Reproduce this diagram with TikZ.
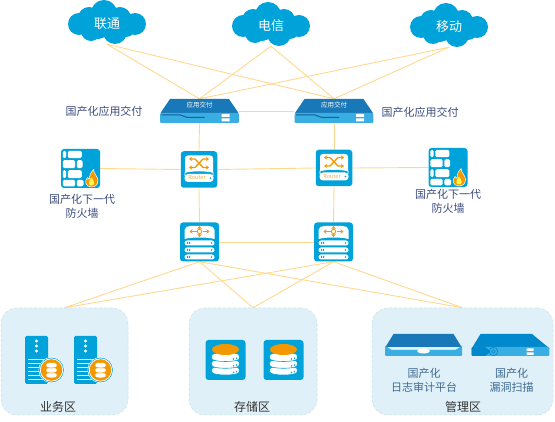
\documentclass[tikz,border=0pt]{standalone}
\usepackage{fontspec}
\setmainfont{Noto Sans CJK SC}
\usetikzlibrary{arrows.meta, backgrounds}
\definecolor{netblue}{HTML}{00A3D9}
\definecolor{darkblue}{HTML}{1878B8}
\definecolor{midblue}{HTML}{0088CC}
\definecolor{lightblue}{HTML}{38AEE2}
\definecolor{netorange}{HTML}{F39800}
\definecolor{linkgold}{HTML}{FFD88F}
\definecolor{zonefill}{HTML}{DFF0F8}
\definecolor{zoneline}{HTML}{C8E0EA}
\definecolor{labelnavy}{HTML}{3B4C7E}
\definecolor{labelblue}{HTML}{3F6A90}
\definecolor{labelgray}{HTML}{333333}

\begin{document}
\begin{tikzpicture}[
    x=1pt, y=-1pt,
    cloudbox/.style={
        minimum width=70pt, minimum height=40pt, inner sep=0pt,
        text=white, font=\fontsize{13}{15}\selectfont
    },
    adcbox/.style={minimum width=79pt, minimum height=24pt, inner sep=0pt},
    iconbox/.style={
        rectangle, rounded corners=3pt, fill=netblue, inner sep=0pt
    },
    routerbox/.style={iconbox, minimum size=36.5pt},
    switchbox/.style={iconbox, minimum size=39pt},
    fwbox/.style={iconbox, minimum size=39pt},
    storebox/.style={iconbox, minimum size=40pt},
    zone/.style={
        rectangle, rounded corners=16pt, inner sep=0pt,
        fill=zonefill, draw=zoneline, densely dashed, line width=0.5pt
    },
    link/.style={draw=linkgold, line width=0.9pt},
    navytext/.style={text=labelnavy, font=\fontsize{11}{13.5}\selectfont,
        align=center, inner sep=0pt},
    bluetext/.style={text=labelblue, font=\fontsize{11}{14}\selectfont,
        align=center, inner sep=0pt},
    zonetext/.style={text=labelgray, font=\fontsize{12}{14}\selectfont,
        inner sep=0pt},
    oarr/.style={
        {Stealth[length=3pt, width=4pt]}-{Stealth[length=3pt, width=4pt]},
        draw=netorange, line width=1.3pt
    },
    otip/.style={
        -{Stealth[length=3pt, width=4.5pt]},
        draw=netorange, line width=1.2pt
    },
    pics/cloudshape/.style={code={
        \fill[netblue] (-28,0) circle (11pt) (-18,-6) circle (11pt)
            (-3,-11) circle (13pt) (13,-6) circle (11pt)
            (28,0) circle (11pt) (8,8) circle (12pt)
            (-16,7) circle (10pt) (-10,0) circle (15pt)
            (10,0) circle (15pt) (19,3) circle (10pt);
    }},
    pics/adcshape/.style={code={
        \fill[darkblue] (-29.5,-12) -- (29.5,-12) -- (39,2) -- (-39,2) -- cycle;
        \fill[lightblue, rounded corners=1pt] (-39.3,2) rectangle (39.3,12);
        \draw[darkblue!80!black, line width=1pt] (-38,4) -- (-19,4) -- (-12,6.5) -- (5,6.5);
        \fill[white] (22,3) rectangle (30,6) (22,7.5) rectangle (30,10.5);
        \node[text=white, font=\fontsize{6.5}{7}\selectfont, inner sep=0pt]
            (tag) at (0,-6) {应用交付};
    }},
    pics/routerface/.style={code={
        \fill[white] (-14,5) -- (-14,-11) .. controls (-14,-13) and (-13,-14) .. (-11,-14)
            -- (11,-14) .. controls (13,-14) and (14,-13) .. (14,-11) -- (14,5) -- cycle;
        \draw[oarr] (-10,-10.5) -- (-4,-10.5) -- (4,-2) -- (10,-2);
        \draw[oarr] (-10,-2) -- (-4,-2) -- (4,-10.5) -- (10,-10.5);
        \draw[white, fill=netblue, line width=0.6pt] (-14,3) .. controls (-8,1) and (8,1) .. (14,3) -- (14,6) -- (-14,6) -- cycle;
        \fill[white, rounded corners=3.5pt] (-14.5,4.5) rectangle (14.5,12.5);
        \node[text=netorange!80!white, font=\fontsize{5.5}{6}\selectfont, inner sep=0pt]
            (tag) at (-2,8.5) {Router};
        \fill[netblue] (11.5,8.5) circle (0.9pt);
    }},
    pics/switchface/.style={code={
        \fill[white] (-15,-3) -- (-15,-12) .. controls (-15,-15) and (-12,-16) .. (-9,-16)
            -- (9,-16) .. controls (12,-16) and (15,-15) .. (15,-12) -- (15,-3)
            .. controls (8,-5) and (-8,-5) .. cycle;
        \draw[netorange, fill=white, line width=0.8pt] (0,-10.5) circle (2.2pt);
        \draw[otip] (-3,-10.5) -- (-10,-10.5);
        \draw[otip] (3,-10.5) -- (10,-10.5);
        \draw[otip] (0,-13) -- (0,-16);
        \draw[otip] (0,-8) -- (0,-5);
        \foreach \b in {1,8,15} {
            \fill[white, rounded corners=2.5pt] (-15,\b-2.5) rectangle (15,\b+2.5);
            \fill[netblue] (-12.5,\b-1) rectangle (-11.5,\b+1)
                (-10.5,\b-1) rectangle (-9.5,\b+1) (12,\b) circle (0.9pt);
        }
    }},
    pics/wallface/.style={code={
        \fill[white, rounded corners=1.5pt]
            (-17.7,-17.7) rectangle (-14.3,-10.3) (-12.7,-17.7) rectangle (1.3,-10.3)
            (-17.7,-8.3) rectangle (-5.3,-0.3) (-3.7,-8.3) rectangle (2,-0.3)
            (-17.7,1.7) rectangle (-14.3,9.7) (-12.7,1.7) rectangle (1.3,9.7)
            (-17.7,11.3) rectangle (-5.3,18) (-3.7,11.3) rectangle (3,18);
        \begin{scope}[shift={(11,10)}]
            \path[fill=netorange, draw=white, line width=0.5pt]
                (0,8.5) .. controls (-6.5,8.5) and (-7,2) .. (-4,-1)
                .. controls (-3,1) and (-2,1) .. (-2,0)
                .. controls (-2,-4) and (0,-7) .. (2,-9)
                .. controls (2,-5) and (6.5,-2) .. (6.5,2)
                .. controls (6.5,6) and (4,8.5) .. (0,8.5) -- cycle;
            \fill[yellow!70!white] (0,7) .. controls (-3.5,7) and (-3.5,3) .. (0,-1)
                .. controls (3.5,3) and (3.5,7) .. (0,7) -- cycle;
        \end{scope}
    }},
    pics/dbserver/.style={code={
        \fill[netblue, rounded corners=1.5pt] (-11.5,-24) rectangle (11.5,24);
        \foreach \b in {-19,-14,-9} { \fill[white] (0,\b) circle (1.7pt); }
        \foreach \b in {-0.5,3.5,7.5,11.5,15.5,19.5} {
            \draw[white, line width=1pt] (-8.5,\b) -- (8.5,\b);
        }
        \fill[white] (15,10) circle (13pt);
        \fill[netblue] (15,10) circle (12.4pt);
        \fill[white] (15,10) circle (11.7pt);
        \fill[netorange] (15,10) circle (10.8pt);
        \foreach \b in {15,10,5} {
            \path[fill=white, draw=netorange, line width=0.6pt]
                (9.5,\b-1) -- (9.5,\b+1.5) .. controls (9.5,\b+3.5) and (20.5,\b+3.5) .. (20.5,\b+1.5)
                -- (20.5,\b-1) .. controls (20.5,\b-3) and (9.5,\b-3) .. (9.5,\b-1) -- cycle;
        }
    }},
    pics/dbface/.style={code={
        \foreach \b in {15,8.3,1.5} {
            \path[shift={(0,\b)}, fill=white, draw=netblue, line width=0.6pt]
                (-13.7,-6) -- (-13.7,-3) .. controls (-13.7,1) and (13.7,1) .. (13.7,-3)
                -- (13.7,-6) .. controls (13.7,-10) and (-13.7,-10) .. (-13.7,-6) -- cycle;
            \fill[netblue] (8,\b-2.5) circle (0.8pt) (11,\b-3.3) circle (0.8pt);
        }
        \fill[netorange] (0,-10.5) ellipse [x radius=13.5pt, y radius=5.5pt];
    }},
    pics/logshape/.style={code={
        \fill[darkblue] (-30,-11) -- (30,-11) -- (38,2) -- (-38,2) -- cycle;
        \fill[lightblue, rounded corners=1pt] (-38.5,1) -- (-38,1) -- (-32,5) -- (32,5) -- (38,1) -- (38.5,1) -- (38.5,11) -- (-38.5,11) -- cycle;
        \fill[white] (0,6) ellipse [x radius=6.5pt, y radius=2.5pt];
    }},
    pics/scanshape/.style={code={
        \fill[midblue] (-30,-11) -- (21.5,-11) -- (38.5,3) -- (-38.5,3) -- cycle;
        \fill[lightblue, rounded corners=1pt] (-38.8,2) rectangle (38.8,11);
        \fill[midblue, rounded corners=1pt] (-38.8,2) -- (-25,2) -- (-20,6.5) -- (-25,11) -- (-38.8,11) -- cycle;
        \draw[midblue, line width=0.6pt] (-17,6.5) circle (4.2pt) (-17,6.5) circle (1.8pt);
        \fill[white] (16,3.5) rectangle (23,6) (16,7.5) rectangle (23,10);
    }}
]
\useasboundingbox (0,0) rectangle (555,422);

\node[zone, minimum width=127pt, minimum height=107pt] at (64.5,361.5) (zoneApp) {};
\node[zone, minimum width=128pt, minimum height=107pt] at (253,361.5) (zoneStore) {};
\node[zone, minimum width=181pt, minimum height=107pt] at (462.5,361.5) (zoneMgmt) {};

\pic at (107,24) {cloudshape};
\pic at (271,26) {cloudshape};
\pic at (449,27) {cloudshape};
\node[cloudbox] at (107,24) (liantong) {联通};
\node[cloudbox] at (271,26) (dianxin) {电信};
\node[cloudbox] at (449,27) (yidong) {移动};

\node[adcbox] at (199.5,111) (adcL) {};
\node[adcbox] at (334,111) (adcR) {};
\pic (adcLpic) at (199.5,111) {adcshape};
\pic (adcRpic) at (334,111) {adcshape};

\node[routerbox] at (199,169.5) (routerL) {};
\node[routerbox] at (334,168) (routerR) {};
\pic (routerLpic) at (199,169.5) {routerface};
\pic (routerRpic) at (334,168) {routerface};

\node[fwbox] at (80.5,168.5) (wallL) {};
\node[fwbox] at (448,167.5) (wallR) {};
\pic at (80.5,168.5) {wallface};
\pic at (448,167.5) {wallface};

\node[switchbox] at (199.5,242) (switchL) {};
\node[switchbox] at (333.5,242) (switchR) {};
\pic at (199.5,242) {switchface};
\pic at (333.5,242) {switchface};

\pic at (36.5,360) {dbserver};
\pic at (85.5,360) {dbserver};
\node[storebox] at (225.5,360) (storeA) {};
\node[storebox] at (283.5,360) (storeB) {};
\pic at (225.5,360) {dbface};
\pic at (283.5,360) {dbface};
\pic at (423.5,345) {logshape};
\pic at (510.5,345) {scanshape};

\begin{scope}[on background layer]
\draw[link] (liantong.south) -- (adcL.north);
\draw[link] (liantong.south) -- (adcR.north);
\draw[link] (dianxin.south) -- (adcL.north);
\draw[link] (dianxin.south) -- (adcR.north);
\draw[link] (yidong.south) -- (adcL.north);
\draw[link] (yidong.south) -- (adcR.north);
\draw[link] (adcL.east) -- (adcR.west);
\draw[link] (adcL.south) -- (routerL.north);
\draw[link] (adcR.south) -- (routerR.north);
\draw[link] (wallL.east) -- (routerL.west);
\draw[link] (routerL.east) -- (routerR.west);
\draw[link] (routerR.east) -- (wallR.west);
\draw[link] (routerL.south) -- (switchL.north);
\draw[link] (routerR.south) -- (switchR.north);
\draw[link] (switchL.east) -- (switchR.west);
\draw[link] (switchL.south) -- (zoneApp.north);
\draw[link] (switchL.south) -- (zoneStore.north);
\draw[link] (switchL.south) -- (zoneMgmt.north);
\draw[link] (switchR.south) -- (zoneApp.north);
\draw[link] (switchR.south) -- (zoneStore.north);
\draw[link] (switchR.south) -- (zoneMgmt.north);
\end{scope}

\node[navytext] at (104,111) (adcLtext) {国产化应用交付};
\node[navytext] at (420,112) (adcRtext) {国产化应用交付};
\node[navytext] at (82,206.5) (wallLtext) {国产化下一代\\防火墙};
\node[navytext] at (448,201.5) (wallRtext) {国产化下一代\\防火墙};
\node[bluetext] at (424,380) (logtext) {国产化\\日志审计平台};
\node[bluetext] at (511.5,380) (scantext) {国产化\\漏洞扫描};
\node[zonetext] at (58,407) (appzonetext) {业务区};
\node[zonetext] at (252,407) (storezonetext) {存储区};
\node[zonetext] at (463,407) (mgmtzonetext) {管理区};

\end{tikzpicture}
\end{document}
